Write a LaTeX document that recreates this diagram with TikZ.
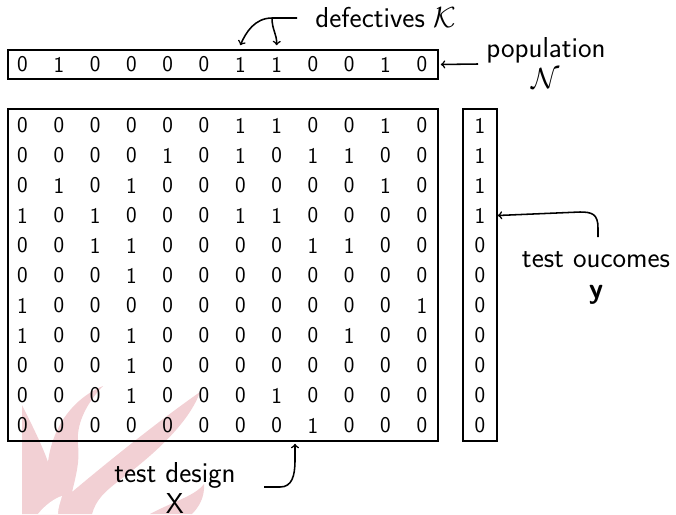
\documentclass[tikz,border=0pt]{standalone}
\usepackage{amsmath, amssymb}
\usepackage{tikz}
\usetikzlibrary{positioning}
\usetikzlibrary{arrows}
\usetikzlibrary{calc}

\definecolor{flamepink}{RGB}{242,208,212}

\tikzset{
  bit/.style={font=\sffamily\fontsize{16}{18}\selectfont, inner sep=0pt},
  lbl/.style={font=\sffamily\fontsize{20.5}{22}\selectfont, align=center, inner sep=0pt},
  frame/.style={draw, line width=1.1pt, inner sep=0pt},
  ptr/.style={->, line width=1.1pt},
}

\begin{document}
\begin{tikzpicture}[x=0.025cm, y=-0.025cm]
\useasboundingbox (0,0) rectangle (676,514);

% flame in the background
\fill[flamepink] (22,514) -- (22,405) .. controls (32,425) and (42,445) .. (48,462)
  .. controls (52,430) and (70,400) .. (103,386) .. controls (85,405) and (76,425) .. (78,445)
  .. controls (80,460) and (76,476) .. (72,492)
  .. controls (110,460) and (160,420) .. (200,392) .. controls (190,420) and (160,450) .. (120,480)
  .. controls (104,492) and (96,500) .. (92,514) -- cycle;
\fill[flamepink] (150,514) .. controls (172,502) and (195,496) .. (204,484)
  .. controls (205,498) and (198,508) .. (192,514) -- cycle;
\fill[white] (38,514) .. controls (45,505) and (55,498) .. (62,496) .. controls (60,503) and (58,508) .. (58,514) -- cycle;

% population
\node[frame, minimum width=10.75cm, minimum height=0.725cm] (popbox) at (223,64.5) {};
\foreach \b [count=\j] in {0,1,0,0,0,0,1,1,0,0,1,0}
  \node[bit] (pop-\j) at ({22.5+36.3*(\j-1)},64.5) {\b};

% test design
\node[frame, minimum width=10.75cm, minimum height=8.3cm] (design) at (223,275) {};
\foreach \row [count=\i] in {
  {0,0,0,0,0,0,1,1,0,0,1,0},
  {0,0,0,0,1,0,1,0,1,1,0,0},
  {0,1,0,1,0,0,0,0,0,0,1,0},
  {1,0,1,0,0,0,1,1,0,0,0,0},
  {0,0,1,1,0,0,0,0,1,1,0,0},
  {0,0,0,1,0,0,0,0,0,0,0,0},
  {1,0,0,0,0,0,0,0,0,0,0,1},
  {1,0,0,1,0,0,0,0,0,1,0,0},
  {0,0,0,1,0,0,0,0,0,0,0,0},
  {0,0,0,1,0,0,0,1,0,0,0,0},
  {0,0,0,0,0,0,0,0,1,0,0,0}}
  \foreach \b [count=\j] in \row
    \node[bit] (x-\i-\j) at ({22.5+36.3*(\j-1)},{125.5+30*(\i-1)}) {\b};

% test outcomes
\node[frame, minimum width=0.85cm, minimum height=8.3cm] (outbox) at (480,275) {};
\foreach \b [count=\i] in {1,1,1,1,0,0,0,0,0,0,0}
  \node[bit] (y-\i) at (480,{125.5+30*(\i-1)}) {\b};

% labels (anchored at the baseline of the second line)
\node[lbl, anchor=base] (deflbl) at (386,27) {defectives $\mathcal{K}$};
\node[lbl, anchor=base] (poplbl) at (546,88) {population\\$\mathcal{N}$};
\node[lbl, anchor=base] (outlbl) at (596,298) {test oucomes\\\textbf{y}};
\node[lbl, anchor=base] (deslbl) at (175,513) {test design\\X};

\coordinate (defs) at (297,18);
\coordinate (defj) at (272,18);
\coordinate (pops) at (478,64);
\coordinate (outs) at (598,237);
\coordinate (dess) at (264,487);

% connectors
\draw[ptr] (defs) -- (defj) .. controls (255,18) and (246,32) .. ($(popbox.north -| pop-7)+(0,-4)$);
\draw[ptr] (defj) .. controls (272,30) and (277,34) .. ($(popbox.north -| pop-8)+(0,-4)$);
\draw[ptr, shorten >=0.5mm] (pops) -- (popbox.east);
\draw[ptr] (outs) -- (598,228) .. controls (598,214) and (592,212) .. (580,212) -- (y-4 -| outbox.east);
\draw[ptr] (dess) -- (280,487) .. controls (292,487) and (295,476) .. (295,460) -- ($(design.south)+(72,2)$);
\end{tikzpicture}
\end{document}
